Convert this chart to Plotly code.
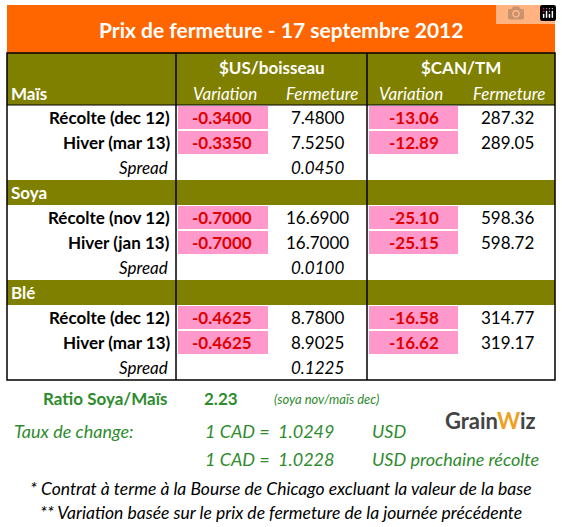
import plotly.graph_objects as go

title = "Prix de fermeture - 17 septembre 2012"
groups = ["Maïs", "Soya", "Blé"]
contracts = [["Récolte (dec 12)", "Hiver (mar 13)"],
             ["Récolte (nov 12)", "Hiver (jan 13)"],
             ["Récolte (dec 12)", "Hiver (mar 13)"]]
us_var = [["-0.3400", "-0.3350"], ["-0.7000", "-0.7000"], ["-0.4625", "-0.4625"]]
us_close = [["7.4800", "7.5250"], ["16.6900", "16.7000"], ["8.7800", "8.9025"]]
us_spread = ["0.0450", "0.0100", "0.1225"]
cad_var = [["-13.06", "-12.89"], ["-25.10", "-25.15"], ["-16.58", "-16.62"]]
cad_close = [["287.32", "289.05"], ["598.36", "598.72"], ["314.77", "319.17"]]
ratio = "2.23"
fx = ["1.0249", "1.0228"]

F = "Lato"
ORANGE = "#ff6600"; OLIVE = "#808000"; PINK = "#ff99cc"; RED = "#e00000"; GREEN = "#2e8b2e"
shapes = []; ann = []

def rect(x0, y0, x1, y1, fill, line=None):
    shapes.append(dict(type="rect", x0=x0, y0=y0, x1=x1, y1=y1, fillcolor=fill,
                       line=dict(width=1 if line else 0, color=line or fill), layer="below"))

def txt(x, y, s, size=17, color="black", anchor="center", bold=False, italic=False):
    if bold: s = "<b>" + s + "</b>"
    if italic: s = "<i>" + s + "</i>"
    ann.append(dict(x=x, y=y, text=s, showarrow=False, xanchor=anchor, yanchor="middle",
                    font=dict(family=F, size=size, color=color)))

L, C1, C2, C3, C4, R = 7, 176, 268, 367, 460, 555
rect(L, 5, R, 53, ORANGE)
txt((L + R) / 2, 29, title, size=21, color="white", bold=True)
rect(L, 53, R, 105, OLIVE)
txt((C1 + C3) / 2, 67, "$US/boisseau", 17, "white", bold=True)
txt((C3 + R) / 2, 67, "$CAN/TM", 17, "white", bold=True)
txt((C1 + C2) / 2 + 3, 93, "Variation", 17, "white", italic=True)
txt((C2 + C3) / 2 + 4, 93, "Fermeture", 17, "white", italic=True)
txt((C3 + C4) / 2 - 3, 93, "Variation", 17, "white", italic=True)
txt((C4 + R) / 2 + 1, 93, "Fermeture", 17, "white", italic=True)
txt(L + 2, 93, "Maïs", 17, "white", anchor="left", bold=True)

rh = 25
y = 105
for g in range(3):
    if g > 0:
        rect(L, y, R, y + rh, OLIVE)
        txt(L + 2, y + rh / 2, groups[g], 17, "white", anchor="left", bold=True)
        y += rh
    for k in range(2):
        cy = y + rh / 2
        rect(C1 + 2, y + 1, C2, y + rh - 1, PINK)
        rect(C3 + 2, y + 1, C4 - 2, y + rh - 1, PINK)
        txt(C1 - 4, cy, contracts[g][k], 17, anchor="right", bold=True)
        txt((C1 + C2) / 2, cy, us_var[g][k], 17, RED, bold=True)
        txt((C2 + C3) / 2, cy, us_close[g][k], 17)
        txt((C3 + C4) / 2, cy, cad_var[g][k], 17, RED, bold=True)
        txt((C4 + R) / 2, cy, cad_close[g][k], 17)
        y += rh
    txt(C1 - 6, y + rh / 2, "Spread", 17, anchor="right", italic=True)
    txt((C2 + C3) / 2, y + rh / 2, us_spread[g], 17, italic=True)
    y += rh

bottom = y
shapes.append(dict(type="rect", x0=L, y0=53, x1=R, y1=bottom, line=dict(color="black", width=1.5)))
for xv in (C1, C3):
    shapes.append(dict(type="line", x0=xv, y0=53, x1=xv, y1=bottom, line=dict(color="black", width=1.5)))
shapes.append(dict(type="line", x0=L, y0=105, x1=R, y1=105, line=dict(color="black", width=1)))

txt(105, 398, "Ratio Soya/Maïs", 17, GREEN, bold=True)
txt(221, 398, ratio, 17, GREEN, bold=True)
txt(272, 399, "(soya nov/maïs dec)", 13, GREEN, anchor="left", italic=True)
txt(12, 431, "Taux de change:", 18, GREEN, anchor="left", italic=True)
txt(203, 431, "1 CAD =  " + fx[0], 18, GREEN, anchor="left", italic=True)
txt(370, 431, "USD", 18, GREEN, anchor="left", italic=True)
txt(203, 459, "1 CAD =  " + fx[1], 18, GREEN, anchor="left", italic=True)
txt(370, 459, "USD prochaine récolte", 18, GREEN, anchor="left", italic=True)
txt(281, 488, "* Contrat à terme à la Bourse de Chicago excluant la valeur de la base", 17.5, "black", italic=True)
txt(281, 512, "** Variation basée sur le prix de fermeture de la journée précédente", 17.5, "black", italic=True)
txt(490, 420, "Grain<span style='color:#f0a020'>W</span>iz", 22, "#444444", bold=True)

fig = go.Figure()
fig.update_layout(width=562, height=527, margin=dict(l=0, r=0, t=0, b=0),
                  paper_bgcolor="white", plot_bgcolor="white",
                  xaxis=dict(range=[0, 562], visible=False, fixedrange=True),
                  yaxis=dict(range=[527, 0], visible=False, fixedrange=True),
                  shapes=shapes, annotations=ann, showlegend=False)
fig.write_html("out.html")
with open("out.html", encoding="utf-8") as f:
    html = f.read()
html = html.replace("<body>", "<body style=\"margin:0;overflow:hidden\">", 1)
with open("out.html", "w", encoding="utf-8") as f:
    f.write(html)
